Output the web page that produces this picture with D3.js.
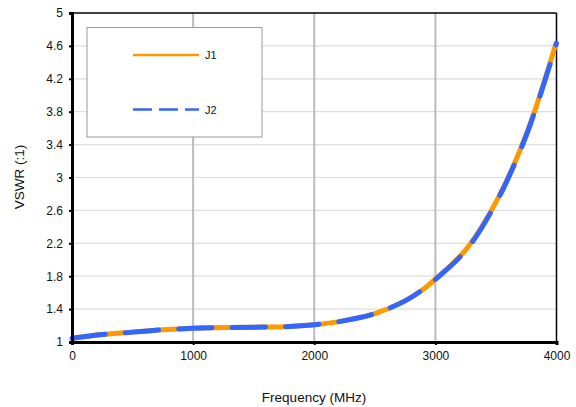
<!DOCTYPE html>
<html><head><meta charset="utf-8">
<script src="https://cdn.jsdelivr.net/npm/d3@7"></script>
<style>
html,body{margin:0;padding:0;background:#fff;}
text{font-family:"Liberation Sans",Arial,sans-serif;fill:#111;}
</style></head>
<body><svg id="c" width="576" height="407"></svg>
<script>
const freqs = [0, 250, 500, 750, 1000, 1250, 1500, 1750, 2000, 2250, 2500, 2750, 2900, 3000, 3250, 3500, 3750, 4000];
const j1 = [1.045, 1.09, 1.12, 1.148, 1.167, 1.176, 1.18, 1.186, 1.21, 1.26, 1.345, 1.5, 1.64, 1.765, 2.12, 2.70, 3.52, 4.65];
const j2 = [1.045, 1.09, 1.12, 1.148, 1.167, 1.176, 1.18, 1.186, 1.21, 1.26, 1.345, 1.5, 1.64, 1.76, 2.11, 2.69, 3.51, 4.63];
const xTicks = [0, 1000, 2000, 3000, 4000];
const yTicks = [1, 1.4, 1.8, 2.2, 2.6, 3, 3.4, 3.8, 4.2, 4.6, 5];
const seriesNames = ["J1", "J2"];

const svg = d3.select("#c");
const L = 72, R = 556.5, T = 13, B = 342;
const x = d3.scaleLinear().domain([0, 4000]).range([L, R]);
const y = d3.scaleLinear().domain([1, 5]).range([B, T]);

// horizontal gridlines
svg.append("g").selectAll("line").data(yTicks.slice(1, -1)).join("line")
  .attr("x1", L).attr("x2", R).attr("y1", d => y(d)).attr("y2", d => y(d))
  .attr("stroke", "#dddddd").attr("stroke-width", 1.2);
// vertical gridlines
svg.append("g").selectAll("line").data(xTicks.slice(1, -1)).join("line")
  .attr("x1", d => x(d)).attr("x2", d => x(d)).attr("y1", T).attr("y2", B)
  .attr("stroke", "#bbbbbb").attr("stroke-width", 2);

// legend box
const lg = svg.append("g");
lg.append("rect").attr("x", 87).attr("y", 27.5).attr("width", 175).attr("height", 109.5)
  .attr("fill", "#fff").attr("stroke", "#999").attr("stroke-width", 1);
lg.append("line").attr("x1", 133).attr("x2", 199).attr("y1", 55).attr("y2", 55)
  .attr("stroke", "#FF9900").attr("stroke-width", 2.5);
lg.append("line").attr("x1", 133).attr("x2", 199).attr("y1", 109.5).attr("y2", 109.5)
  .attr("stroke", "#3366FF").attr("stroke-width", 2.5).attr("stroke-dasharray", "19,7");
lg.append("text").attr("x", 205).attr("y", 59).attr("font-size", 11).text(seriesNames[0]);
lg.append("text").attr("x", 205).attr("y", 114).attr("font-size", 11).text(seriesNames[1]);

// frame
svg.append("line").attr("x1", L).attr("x2", R).attr("y1", T).attr("y2", T).attr("stroke", "#000").attr("stroke-width", 1.5);
svg.append("line").attr("x1", R).attr("x2", R).attr("y1", T).attr("y2", B).attr("stroke", "#000").attr("stroke-width", 1.5);

// curves
const line = d3.line().x((d, i) => x(freqs[i])).y(d => y(d)).curve(d3.curveCatmullRom.alpha(0.5));
svg.append("path").attr("d", line(j1)).attr("fill", "none").attr("stroke", "#FF9900").attr("stroke-width", 5);
svg.append("path").attr("d", line(j2)).attr("fill", "none").attr("stroke", "#3366FF").attr("stroke-width", 5)
  .attr("stroke-linecap", "round").attr("stroke-dasharray", "33.5,20");

// axes
const yAxis = d3.axisLeft(y).tickValues(yTicks).tickFormat(d => d3.format("")(d)).tickSize(3).tickPadding(6);
const gy = svg.append("g").attr("transform", `translate(${L},0)`).call(yAxis);
gy.select(".domain").attr("stroke", "#000").attr("stroke-width", 3);
gy.selectAll(".tick line").attr("stroke", "#000").attr("stroke-width", 2);
gy.selectAll("text").attr("font-size", 12).style("font-family", '"Liberation Sans",Arial,sans-serif').attr("fill", "#111");

const xAxis = d3.axisBottom(x).tickValues(xTicks).tickFormat(d3.format("d")).tickSize(3).tickPadding(6);
const gx = svg.append("g").attr("transform", `translate(0,${B})`).call(xAxis);
gx.select(".domain").attr("stroke", "#000").attr("stroke-width", 3);
gx.selectAll(".tick line").attr("stroke", "#000").attr("stroke-width", 2);
gx.selectAll("text").attr("font-size", 12).style("font-family", '"Liberation Sans",Arial,sans-serif').attr("fill", "#111");

// titles
svg.append("text").attr("transform", "translate(24,177) rotate(-90)").attr("text-anchor", "middle")
  .attr("font-size", 13.5).text("VSWR (:1)");
svg.append("text").attr("x", 314).attr("y", 402).attr("text-anchor", "middle")
  .attr("font-size", 13.5).text("Frequency (MHz)");
</script></body></html>
